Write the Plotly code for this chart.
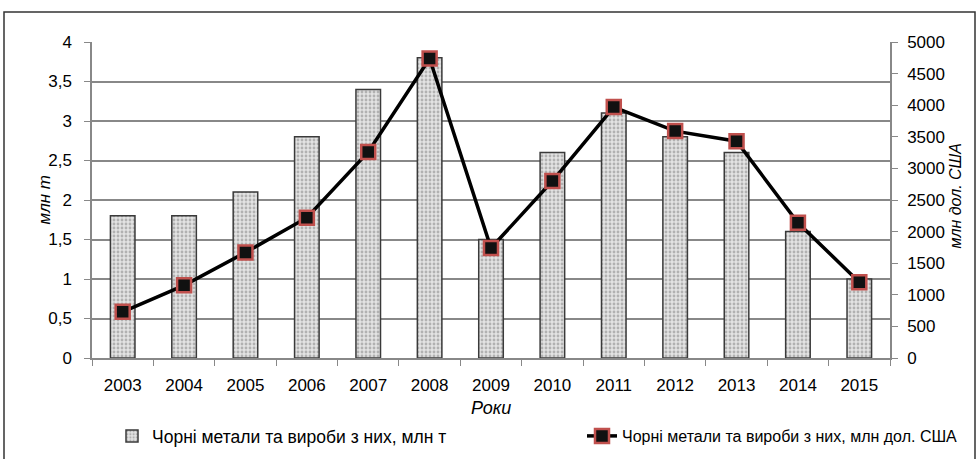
import plotly.graph_objects as go

years = ["2003", "2004", "2005", "2006", "2007", "2008", "2009", "2010", "2011", "2012", "2013", "2014", "2015"]
tonnes = [1.8, 1.8, 2.1, 2.8, 3.4, 3.8, 1.5, 2.6, 3.1, 2.8, 2.6, 1.6, 1.0]
usd = [730, 1150, 1670, 2220, 3260, 4740, 1740, 2800, 3970, 3590, 3430, 2140, 1200]
left_ticks = [0, 0.5, 1, 1.5, 2, 2.5, 3, 3.5, 4]
left_labels = ["0", "0,5", "1", "1,5", "2", "2,5", "3", "3,5", "4"]
right_ticks = list(range(0, 5001, 500))

name_bar = "Чорні метали та вироби з них, млн т"
name_line = "Чорні метали та вироби з них, млн дол. США"

FONT = "Liberation Sans, Arial, sans-serif"

L, R, T, B = 92, 89, 42, 101
PW, PH = 979 - L - R, 459 - T - B

def px(x):
    return (x - L) / PW

def py(y):
    return (459 - B - y) / PH

fig = go.Figure()
fig.add_trace(go.Bar(
    x=years, y=tonnes, name=name_bar, yaxis="y", legend="legend",
    marker=dict(color="#d9d9d9",
                line=dict(color="#3a3a3a", width=1.5),
                pattern=dict(shape=".", fgcolor="#7f7f7f", bgcolor="#e3e3e3", size=4, solidity=0.4)),
))
fig.add_trace(go.Scatter(
    x=years, y=usd, name=name_line, yaxis="y2", mode="lines+markers", legend="legend2",
    line=dict(color="black", width=3.5),
    marker=dict(symbol="square", size=14, color="#111111", line=dict(color="#c0504d", width=2.5)),
))

leg_common = dict(orientation="h", yref="container", xref="container", yanchor="middle",
                  xanchor="left", bgcolor="rgba(0,0,0,0)", itemwidth=30)
fig.update_layout(
    width=979, height=459,
    margin=dict(l=L, r=R, t=T, b=B, autoexpand=False),
    paper_bgcolor="white", plot_bgcolor="white",
    font=dict(family=FONT, size=17, color="black"),
    bargap=0.6,
    showlegend=True,
    legend=dict(x=112 / 979, y=(459 - 436) / 459, font=dict(size=17.5), **leg_common),
    legend2=dict(x=582 / 979, y=(459 - 436) / 459, font=dict(size=16), **leg_common),
    xaxis=dict(type="category", range=[-0.5, len(years) - 0.5],
               showline=True, linecolor="#888888", linewidth=1.5,
               ticks="outside", tickson="boundaries", ticklen=6, tickcolor="#888888",
               showgrid=False, tickfont=dict(size=17), ticklabelstandoff=11, automargin=False),
    yaxis=dict(range=[0, 4], tickvals=left_ticks, ticktext=left_labels,
               showline=True, linecolor="#888888", linewidth=1.5,
               ticks="outside", ticklen=6, tickcolor="#888888",
               showgrid=True, gridcolor="#888888", gridwidth=1.5, zeroline=False,
               tickfont=dict(size=17), ticklabelstandoff=9, automargin=False),
    yaxis2=dict(range=[0, 5000], tickvals=right_ticks, overlaying="y", side="right",
                showline=True, linecolor="#888888", linewidth=1.5,
                ticks="outside", ticklen=6, tickcolor="#888888",
                showgrid=False, zeroline=False, tickfont=dict(size=17),
                ticklabelstandoff=6, automargin=False),
)

fig.add_annotation(text="Роки", xref="paper", yref="paper", x=px(491), y=py(408),
                   showarrow=False, font=dict(size=18, style="italic"), yanchor="middle")
fig.add_annotation(text="млн т", xref="paper", yref="paper", x=px(32), y=py(200),
                   textangle=-90, showarrow=False, font=dict(size=17, style="italic"))
fig.add_annotation(text="млн дол. США", xref="paper", yref="paper", x=px(965), y=py(195),
                   textangle=-90, showarrow=False, font=dict(size=16, style="italic"))

fig.add_shape(type="rect", xref="paper", yref="paper",
              x0=px(4), x1=px(975), y0=py(470), y1=py(12),
              line=dict(color="#333333", width=1.5), fillcolor="rgba(0,0,0,0)", layer="below")

fig.write_html("out.html", config={"displayModeBar": False},
               post_script="document.body.style.margin='0';document.body.style.padding='0';")
